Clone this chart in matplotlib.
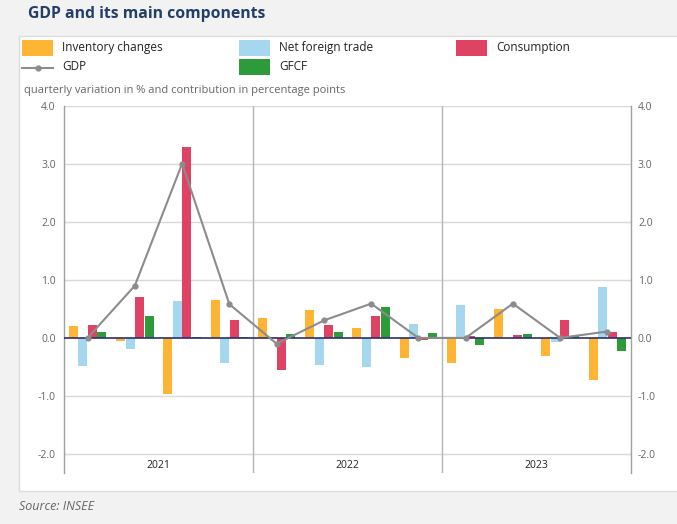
import numpy as np
import matplotlib.pyplot as plt
from matplotlib.patches import Rectangle
from matplotlib.lines import Line2D

# quarterly contributions, 2021Q1 .. 2023Q4
years = ['2021', '2022', '2023']
inventory = [0.20, -0.05, -0.97, 0.66, 0.34, 0.48, 0.17, -0.35, -0.44, 0.50, -0.31, -0.72]
net_trade = [-0.49, -0.19, 0.64, -0.44, 0.01, -0.47, -0.50, 0.24, 0.56, 0.0, -0.07, 0.88]
consumption = [0.22, 0.71, 3.29, 0.31, -0.56, 0.22, 0.37, -0.04, 0.03, 0.05, 0.31, 0.10]
gfcf = [0.11, 0.38, 0.01, 0.01, 0.06, 0.10, 0.54, 0.09, -0.12, 0.07, 0.04, -0.23]
gdp = [0.0, 0.90, 3.0, 0.58, -0.10, 0.30, 0.59, 0.0, 0.0, 0.59, 0.0, 0.11]

c_inv = '#ffb533'
c_nft = '#a5d8ef'
c_cons = '#e04264'
c_gfcf = '#2e9b3a'
c_gdp = '#8c8c8c'

plt.rcParams['font.family'] = ['Open Sans', 'DejaVu Sans']

W, H = 677, 524
fig = plt.figure(figsize=(W / 100, H / 100), dpi=100, facecolor='#f2f2f2')

def fx(px):
    return px / W

def fy(py):
    return 1 - py / H

# white panel
fig.patches.append(Rectangle((fx(19), fy(491)), fx(W - 19 + 5), (491 - 36) / H,
                             transform=fig.transFigure, fc='white', ec='#dcdcdc', lw=1, zorder=-1))

fig.text(fx(28), fy(14), 'GDP and its main components', fontsize=11.3, fontweight='bold',
         color='#233e68', va='center', ha='left')

# legend drawn by hand
def legend_box(x, y, color, label):
    fig.patches.append(Rectangle((fx(x), fy(y + 8)), fx(31), 16 / H, transform=fig.transFigure,
                                 fc=color, ec='none', zorder=2))
    fig.text(fx(x + 40), fy(y), label, fontsize=8.5, color='#222222', va='center', ha='left')

legend_box(22, 48, c_inv, 'Inventory changes')
legend_box(239, 48, c_nft, 'Net foreign trade')
legend_box(456, 48, c_cons, 'Consumption')
legend_box(239, 67, c_gfcf, 'GFCF')
fig.lines.append(Line2D([fx(22), fx(53)], [fy(68), fy(68)], transform=fig.transFigure,
                        color=c_gdp, lw=1.5))
fig.lines.append(Line2D([fx(37.5)], [fy(68)], transform=fig.transFigure, color=c_gdp,
                        marker='o', ms=3.5))
fig.text(fx(62), fy(67), 'GDP', fontsize=8.5, color='#222222', va='center', ha='left')

fig.text(fx(24), fy(91), 'quarterly variation in % and contribution in percentage points',
         fontsize=8.0, color='#666666', va='center', ha='left')

fig.text(fx(19), fy(507), 'Source: INSEE', fontsize=9, style='italic', color='#666666',
         va='center', ha='left')

# plot area
top, bottom = 105.5, 473
ax = fig.add_axes([fx(64), fy(bottom), fx(631 - 64), (bottom - top) / H])
ax.set_facecolor('none')
ymin = 4 - (bottom - top) / 58.1
ax.set_ylim(ymin, 4.0)
ax.set_xlim(-0.5, 11.5)

x = np.arange(len(gdp))
w = 0.19
ax.bar(x - 0.3, inventory, w, color=c_inv, zorder=2)
ax.bar(x - 0.1, net_trade, w, color=c_nft, zorder=2)
ax.bar(x + 0.1, consumption, w, color=c_cons, zorder=2)
ax.bar(x + 0.3, gfcf, w, color=c_gfcf, zorder=2)
ax.axhline(0, color='#2b2f6e', lw=1.2, zorder=3)
ax.plot(x, gdp, color=c_gdp, lw=1.5, marker='o', ms=3.5, zorder=4)

yt = [-2, -1, 0, 1, 2, 3, 4]
for v in yt:
    if v != 0:
        ax.axhline(v, color='#d9d9d9', lw=1, zorder=1)
for xs in [3.5, 7.5]:
    ax.axvline(xs, color='#b5b5b5', lw=1, zorder=1)

for i, yr in enumerate(years):
    ax.text(1.5 + 4 * i, 4 - (466 - top) / 58.1, yr, ha='center', va='center',
            fontsize=7.5, color='#222222')

for s in ['top', 'bottom']:
    ax.spines[s].set_visible(False)
for s in ['left', 'right']:
    ax.spines[s].set_color('#a0a0a0')
    ax.spines[s].set_linewidth(1)

ax.set_xticks([])
ax.set_yticks(yt)
ax.set_yticklabels([f'{v:.1f}' for v in yt])
ax.tick_params(axis='y', length=0, pad=6, labelsize=7.5, labelcolor='#666666')

ax2 = ax.twinx()
ax2.set_ylim(ax.get_ylim())
ax2.set_yticks(yt)
ax2.set_yticklabels([f'{v:.1f}' for v in yt])
ax2.tick_params(axis='y', length=0, pad=5, labelsize=7.5, labelcolor='#666666')
for s in ax2.spines.values():
    s.set_visible(False)

fig.savefig('out.png', dpi=100, facecolor=fig.get_facecolor())
